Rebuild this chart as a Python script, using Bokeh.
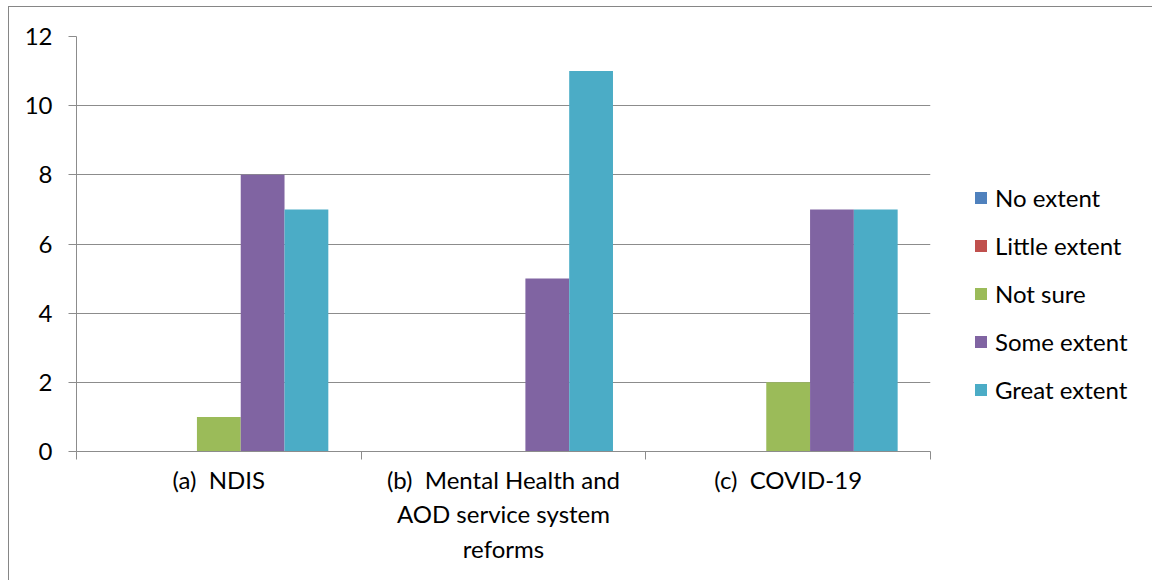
from bokeh.plotting import figure
from bokeh.layouts import row
from bokeh.models import (ColumnDataSource, FixedTicker, Legend, LegendItem,
                          LinearAxis, Range1d)
from bokeh.embed import file_html
from bokeh.resources import INLINE

# ---- data ----
categories = ["(a)\u00a0 NDIS",
              "(b)\u00a0 Mental Health and\nAOD service system\nreforms",
              "(c)\u00a0 COVID-19"]
series_names = ["No extent", "Little extent", "Not sure", "Some extent", "Great extent"]
no_extent = [0, 0, 0]
little_extent = [0, 0, 0]
not_sure = [1, 0, 2]
some_extent = [8, 5, 7]
great_extent = [7, 11, 7]
y_ticks = [0, 2, 4, 6, 8, 10, 12]

series_values = [no_extent, little_extent, not_sure, some_extent, great_extent]
colors = ["#4F81BD", "#C0504D", "#9BBB59", "#8064A2", "#4BACC6"]

FONT = "Lato"
FS = "24px"
GRAY = "#8c8c8c"

p = figure(width=923, height=573, output_backend="svg", toolbar_location=None,
           x_range=Range1d(0, len(categories)), y_range=Range1d(0, 12),
           min_border_left=67, min_border_top=29, min_border_right=2,
           min_border_bottom=129, x_axis_location=None, y_axis_location=None)
p.outline_line_color = None
p.background_fill_color = "white"
p.border_fill_color = "white"

n = len(series_names)
bw = 1.0 / (n + 1.5)
centers = [i + 0.5 for i in range(len(categories))]

# legend panel as a separate small figure
lf = figure(width=220, height=573, output_backend="svg", toolbar_location=None,
            x_range=Range1d(0, 1), y_range=Range1d(0, 1),
            min_border=0, x_axis_location=None, y_axis_location=None)
lf.outline_line_color = None
lf.xgrid.visible = False
lf.ygrid.visible = False
lf.border_fill_color = "white"
lf.background_fill_color = "white"

items = []
for j, (name, vals, col) in enumerate(zip(series_names, series_values, colors)):
    xs = [c + (j - (n - 1) / 2) * bw for c in centers]
    src = ColumnDataSource(dict(x=xs, top=vals))
    p.vbar(x="x", top="top", bottom=0, width=bw, source=src,
           fill_color=col, line_color=None)
    # zero-size proxy so the side legend shows the swatch
    lr = lf.vbar(x=[0.5], top=[0.5], bottom=0.5, width=0, fill_color=col, line_color=None)
    items.append(LegendItem(label=name, renderers=[lr]))

# y axis
yax = LinearAxis(ticker=FixedTicker(ticks=y_ticks))
yax.axis_line_color = GRAY
yax.major_tick_line_color = GRAY
yax.major_tick_in = 0
yax.major_tick_out = 8
yax.minor_tick_line_color = None
yax.major_label_standoff = 16
yax.major_label_text_font = FONT
yax.major_label_text_font_size = FS
yax.major_label_text_color = "black"
p.add_layout(yax, "left")

# x axis
xax = LinearAxis(ticker=FixedTicker(ticks=centers, minor_ticks=[0, 1, 2, 3]))
xax.major_label_overrides = {c: lab for c, lab in zip(centers, categories)}
xax.axis_line_color = GRAY
xax.major_tick_line_color = None
xax.minor_tick_line_color = GRAY
xax.minor_tick_in = 0
xax.minor_tick_out = 8
xax.major_tick_out = 8
xax.major_label_standoff = 5
xax.major_label_text_font = FONT
xax.major_label_text_font_size = FS
xax.major_label_text_color = "black"
p.add_layout(xax, "below")

p.xgrid.visible = False
p.ygrid.ticker = FixedTicker(ticks=y_ticks)
p.ygrid.grid_line_color = GRAY
p.ygrid.grid_line_width = 1

legend = Legend(items=items, location=(41, 47))
legend.border_line_color = None
legend.background_fill_alpha = 0
legend.padding = 0
legend.margin = 0
legend.spacing = 19
legend.glyph_width = 15
legend.glyph_height = 15
legend.label_height = 28
legend.label_standoff = 7
legend.label_text_font = FONT
legend.label_text_font_size = FS
legend.label_text_color = "black"
lf.add_layout(legend, "center")

layout = row(p, lf, spacing=0)
layout.margin = (6, 0, 0, 8)
layout.styles = {"border-left": "1px solid #868686", "border-top": "1px solid #868686"}

open("out.html", "w").write(file_html(layout, INLINE))
